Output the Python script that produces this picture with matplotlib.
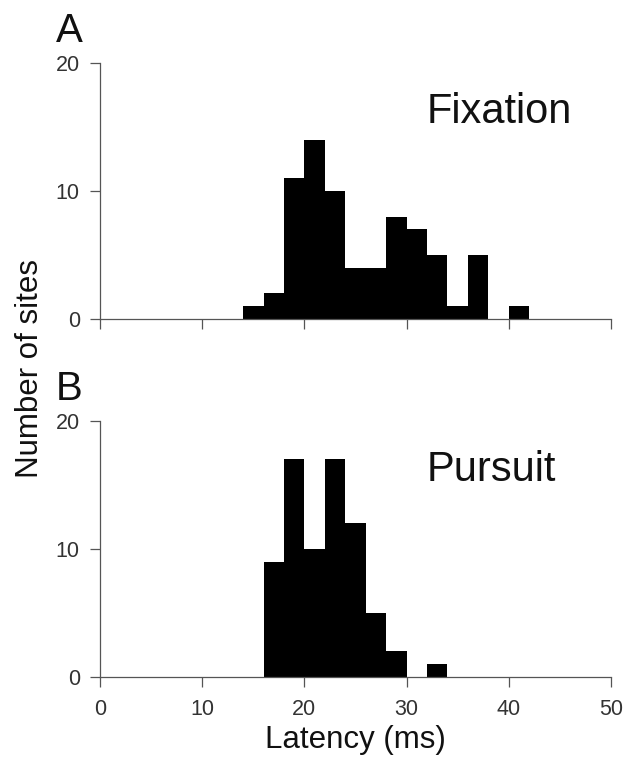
import matplotlib
matplotlib.use('Agg')
import matplotlib.pyplot as plt

plt.rcParams['font.family'] = ['Liberation Sans', 'DejaVu Sans']

# latency bins are 2 ms wide; values are the number of sites per bin
fixation_bin_starts = [14, 16, 18, 20, 22, 24, 26, 28, 30, 32, 34, 36, 38, 40]
fixation_counts = [1, 2, 11, 14, 10, 4, 4, 8, 7, 5, 1, 5, 0, 1]

pursuit_bin_starts = [16, 18, 20, 22, 24, 26, 28, 30, 32]
pursuit_counts = [9, 17, 10, 17, 12, 5, 2, 0, 1]

bin_width = 2
x_ticks = [0, 10, 20, 30, 40, 50]
y_ticks = [0, 10, 20]

panels = [
    ('A', 'Fixation', fixation_bin_starts, fixation_counts),
    ('B', 'Pursuit', pursuit_bin_starts, pursuit_counts),
]

fig = plt.figure(figsize=(6.27, 7.62), dpi=100)

left = 100 / 627
width = (611 - 100) / 627
axes_rects = [
    [left, 1 - 319 / 762, width, 256 / 762],
    [left, 1 - 677 / 762, width, 256 / 762],
]
letter_y = [1 - 42 / 762, 1 - 400 / 762]

axis_color = '#555555'
text_color = '#111111'

for (letter, name, starts, counts), rect, ly in zip(panels, axes_rects, letter_y):
    ax = fig.add_axes(rect)
    ax.bar(starts, counts, width=bin_width, align='edge', color='black',
           edgecolor='black', linewidth=0)
    ax.set_xlim(0, 50)
    ax.set_ylim(0, 20)
    ax.set_xticks(x_ticks)
    ax.set_yticks(y_ticks)
    ax.spines['top'].set_visible(False)
    ax.spines['right'].set_visible(False)
    for side in ['left', 'bottom']:
        ax.spines[side].set_color(axis_color)
        ax.spines[side].set_linewidth(0.9)
    ax.tick_params(axis='both', direction='out', length=7.5, width=0.9,
                   color=axis_color, labelsize=15.5, labelcolor='#333333')
    ax.tick_params(axis='y', pad=7)
    ax.tick_params(axis='x', pad=8)
    ax.text(32.0, 15.3, name, fontsize=30, color=text_color,
            ha='left', va='baseline')
    fig.text(56 / 627, ly, letter, fontsize=29, color=text_color,
             ha='left', va='baseline')

    if letter == 'A':
        ax.set_xticklabels([])

fig.text(30 / 627, 1 - 368 / 762, 'Number of sites', rotation=90,
         fontsize=22.5, color=text_color, ha='center', va='center')
fig.text(355.5 / 627, 1 - 748 / 762, 'Latency (ms)', fontsize=22.5,
         color=text_color, ha='center', va='baseline')

fig.savefig('out.png', dpi=100)
